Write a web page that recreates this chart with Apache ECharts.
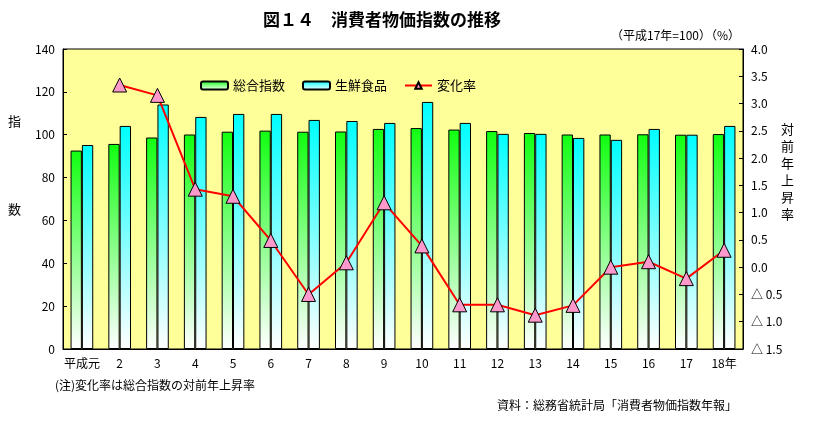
<!DOCTYPE html>
<html>
<head>
<meta charset="utf-8">
<script src="https://cdn.jsdelivr.net/npm/echarts@6/dist/echarts.min.js"></script>
<style>
html,body{margin:0;padding:0;background:#fff;}
#main{width:835px;height:425px;}
</style>
</head>
<body>
<div id="main"></div>
<script>
const categories = ['平成元','2','3','4','5','6','7','8','9','10','11','12','13','14','15','16','17','18年'];
const sogo = [92.6, 95.7, 98.7, 100.1, 101.4, 101.9, 101.4, 101.5, 102.7, 103.1, 102.4, 101.7, 100.8, 100.1, 100.1, 100.2, 100.0, 100.3];
const seisen = [95.2, 104.1, 114.1, 108.3, 109.7, 109.7, 106.9, 106.4, 105.5, 115.3, 105.5, 100.4, 100.4, 98.5, 97.6, 102.7, 100.0, 104.1];
const rate = [null, 3.34, 3.15, 1.43, 1.30, 0.49, -0.50, 0.08, 1.18, 0.39, -0.69, -0.69, -0.88, -0.70, 0.0, 0.10, -0.21, 0.31];
const leftTicks = {min: 0, max: 140, interval: 20};
const rightTicks = {min: -1.5, max: 4.0, interval: 0.5};

const FONT = '"Noto Sans CJK JP", sans-serif';
const chart = echarts.init(document.getElementById('main'));

function grad(top) {
  return new echarts.graphic.LinearGradient(0, 0, 0, 1, [
    {offset: 0, color: top},
    {offset: 1, color: '#ffffff'}
  ]);
}

chart.setOption({
  animation: false,
  textStyle: {fontFamily: FONT, color: '#000'},
  title: {
    text: '図１４　消費者物価指数の推移',
    left: 258, top: 6,
    textStyle: {fontFamily: FONT, fontSize: 17, fontWeight: 'bold', color: '#000'}
  },
  legend: {
    left: 195, top: 74,
    itemWidth: 27, itemHeight: 8, itemGap: 17,
    textStyle: {fontFamily: FONT, fontSize: 13, color: '#000'},
    data: ['総合指数', '生鮮食品', '変化率']
  },
  grid: {
    left: 63, right: 92, top: 49, bottom: 76,
    show: true, backgroundColor: '#ffff99', borderColor: '#000', borderWidth: 1
  },
  xAxis: {
    type: 'category',
    data: categories,
    boundaryGap: true,
    axisLine: {lineStyle: {color: '#000', width: 1}},
    axisTick: {inside: true, length: 4, lineStyle: {color: '#000'}},
    axisLabel: {color: '#000', fontSize: 12, fontFamily: FONT, margin: 8, interval: 0}
  },
  yAxis: [{
    type: 'value',
    min: leftTicks.min, max: leftTicks.max, interval: leftTicks.interval,
    axisLine: {show: true, lineStyle: {color: '#000'}},
    axisTick: {show: true, inside: true, length: 4, lineStyle: {color: '#000'}},
    splitLine: {show: false},
    axisLabel: {color: '#000', fontSize: 12, fontFamily: FONT, margin: 8}
  }, {
    type: 'value',
    position: 'right',
    min: rightTicks.min, max: rightTicks.max, interval: rightTicks.interval,
    axisLine: {show: true, lineStyle: {color: '#000'}},
    axisTick: {show: true, inside: true, length: 4, lineStyle: {color: '#000'}},
    splitLine: {show: false},
    axisLabel: {
      color: '#000', fontSize: 12, fontFamily: FONT, margin: 8,
      formatter: function (v) {
        if (v < 0) return '△ ' + Math.abs(v).toFixed(1);
        return v.toFixed(1);
      }
    }
  }],
  series: [{
    name: '総合指数',
    type: 'bar',
    data: sogo,
    barGap: '0%',
    barCategoryGap: '40%',
    itemStyle: {color: grad('#11ff11'), borderColor: '#000', borderWidth: 1}
  }, {
    name: '生鮮食品',
    type: 'bar',
    data: seisen,
    barGap: '0%',
    barCategoryGap: '40%',
    itemStyle: {color: grad('#00ffff'), borderColor: '#000', borderWidth: 1}
  }, {
    name: '変化率',
    type: 'line',
    yAxisIndex: 1,
    data: rate,
    symbol: 'triangle',
    symbolSize: 14,
    lineStyle: {color: '#ff0000', width: 2},
    itemStyle: {color: '#ff99cc', borderColor: '#000', borderWidth: 1}
  }],
  graphic: [
    {type: 'text', left: 8, top: 115, style: {text: '指', font: '13px ' + FONT, fill: '#000'}},
    {type: 'text', left: 8, top: 203, style: {text: '数', font: '13px ' + FONT, fill: '#000'}},
    {type: 'text', left: 781, top: 121, style: {text: '対\n前\n年\n上\n昇\n率', font: '13px ' + FONT, fill: '#000', lineHeight: 17}},
    {type: 'text', right: 95, top: 29, style: {text: '（平成17年=100）（%）', font: '12px ' + FONT, fill: '#000'}},
    {type: 'text', left: 55, top: 379, style: {text: '(注)変化率は総合指数の対前年上昇率', font: '12px ' + FONT, fill: '#000'}},
    {type: 'text', left: 497, top: 399, style: {text: '資料：総務省統計局「消費者物価指数年報」', font: '12px ' + FONT, fill: '#000'}}
  ]
});
</script>
</body>
</html>
